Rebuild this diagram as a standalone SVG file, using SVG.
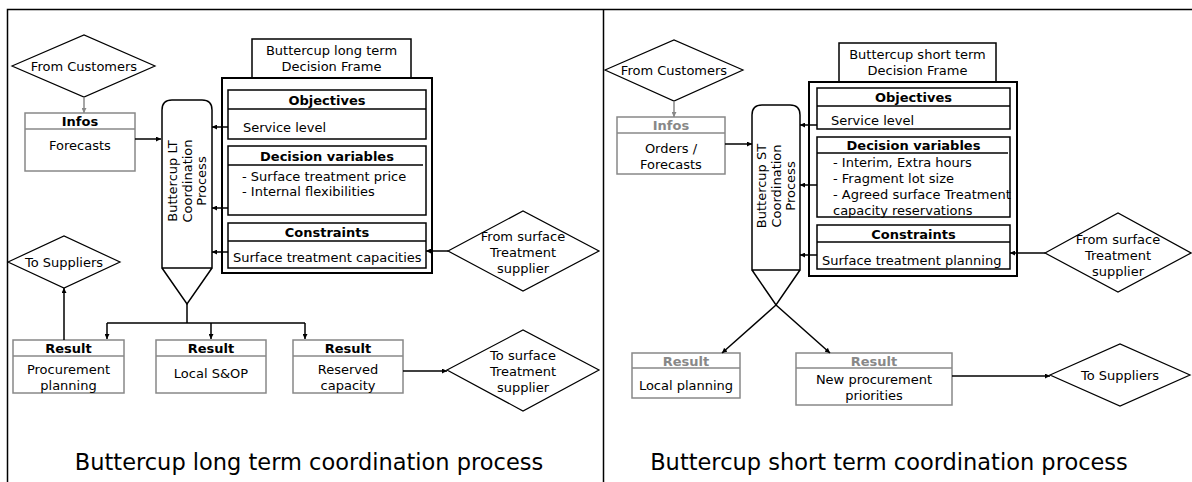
<svg xmlns="http://www.w3.org/2000/svg" width="1192" height="482" viewBox="0 0 1192 482">
<style>
text{font-family:"DejaVu Sans","Liberation Sans",sans-serif;font-size:13px;fill:#000}
.c{text-anchor:middle}
.b{font-weight:bold}
.g{fill:#888}
.cap{font-size:22.5px;text-anchor:middle}
.box{fill:#fff;stroke:#000;stroke-width:1.5}
.gbox{fill:#fff;stroke:#888;stroke-width:1.5}
.frame{fill:#fff;stroke:#000;stroke-width:2}
.dia{fill:#fff;stroke:#000;stroke-width:1.2}
.ln{fill:none;stroke:#000;stroke-width:1.5}
.gln{fill:none;stroke:#888;stroke-width:1.5}
.con{fill:none;stroke:#000;stroke-width:1.5;marker-end:url(#ah)}
.gcon{fill:none;stroke:#888;stroke-width:1.5;marker-end:url(#gah)}
</style>
<defs>
<marker id="ah" viewBox="0 0 10 10" refX="10" refY="5" markerWidth="6" markerHeight="5" orient="auto" markerUnits="userSpaceOnUse"><path d="M0,0 L10,5 L0,10 Z" fill="#000"/></marker>
<marker id="gah" viewBox="0 0 10 10" refX="10" refY="5" markerWidth="6" markerHeight="5" orient="auto" markerUnits="userSpaceOnUse"><path d="M0,0 L10,5 L0,10 Z" fill="#888"/></marker>
</defs>

<g id="panels">
<path class="ln" d="M7.5,482 V9.5 H1192 M603.5,9.5 V482" stroke-width="1.6"/>
</g>

<!-- LEFT PANEL -->
<g id="L-from-customers"><polygon class="dia" points="12,66 84,35 155,66 84,97"/><text class="c" x="84" y="70.5">From Customers</text></g>
<g id="L-infos"><rect class="gbox" x="25" y="113" width="110" height="58"/><line class="gln" x1="25" y1="129" x2="135" y2="129"/><text class="c b" x="80" y="125.5">Infos</text><text class="c" x="80" y="150">Forecasts</text></g>
<g id="L-process"><path class="box" d="M162,268 V110 Q162,100 172,100 H202 Q212,100 212,110 V268 Z M162,268 L187,304 L212,268"/>
<text class="c" transform="translate(187,181) rotate(-90)"><tspan x="0" y="-10">Buttercup LT</tspan><tspan x="0" y="4.5">Coordination</tspan><tspan x="0" y="19">Process</tspan></text></g>
<g id="L-frame-title"><rect class="box" x="252" y="39" width="159" height="39"/><text class="c" x="331.5" y="55">Buttercup long term</text><text class="c" x="331.5" y="71">Decision Frame</text></g>
<g id="L-frame"><rect class="frame" x="222" y="78" width="210" height="195"/></g>
<g id="L-objectives"><rect class="box" x="228" y="90" width="198" height="49"/><line class="ln" x1="228" y1="109" x2="426" y2="109"/><text class="c b" x="327" y="104.5">Objectives</text><text x="243" y="131.5">Service level</text></g>
<g id="L-decision"><rect class="box" x="228" y="146" width="198" height="69"/><line class="ln" x1="228" y1="165" x2="423" y2="165"/><text class="c b" x="327" y="160.5">Decision variables</text><text x="242" y="180.5">- Surface treatment price</text><text x="242" y="196">- Internal flexibilities</text></g>
<g id="L-constraints"><rect class="box" x="228" y="223" width="198" height="45"/><line class="ln" x1="228" y1="241" x2="426" y2="241"/><text class="c b" x="327" y="237">Constraints</text><text x="233" y="261.5">Surface treatment capacities</text></g>
<g id="L-from-surface"><polygon class="dia" points="448,251 523,211 599,251 523,291"/><text class="c" x="523" y="241">From surface</text><text class="c" x="523" y="257">Treatment</text><text class="c" x="523" y="273">supplier</text></g>
<g id="L-to-suppliers"><polygon class="dia" points="8,262 64,236 120,262 64,288"/><text class="c" x="64" y="266.5">To Suppliers</text></g>
<g id="L-result1"><rect class="gbox" x="13" y="340" width="111" height="53"/><line class="gln" x1="13" y1="356" x2="124" y2="356"/><text class="c b" x="68.5" y="352.5">Result</text><text class="c" x="68.5" y="373.5">Procurement</text><text class="c" x="68.5" y="389.5">planning</text></g>
<g id="L-result2"><rect class="gbox" x="156" y="340" width="110" height="53"/><line class="gln" x1="156" y1="356" x2="266" y2="356"/><text class="c b" x="211" y="352.5">Result</text><text class="c" x="211" y="377.5">Local S&amp;OP</text></g>
<g id="L-result3"><rect class="gbox" x="293" y="340" width="110" height="53"/><line class="gln" x1="293" y1="356" x2="403" y2="356"/><text class="c b" x="348" y="352.5">Result</text><text class="c" x="348" y="373.5">Reserved</text><text class="c" x="348" y="389.5">capacity</text></g>
<g id="L-to-surface"><polygon class="dia" points="447,370 523,330 599,370 523,411"/><text class="c" x="523" y="360">To surface</text><text class="c" x="523" y="376">Treatment</text><text class="c" x="523" y="392">supplier</text></g>
<text class="cap" x="309" y="470">Buttercup long term coordination process</text>

<!-- RIGHT PANEL -->
<g id="R-from-customers"><polygon class="dia" points="605,70 674,40 743,70 674,101"/><text class="c" x="674" y="74.5">From Customers</text></g>
<g id="R-infos"><rect class="gbox" x="617" y="117" width="108" height="57"/><line class="gln" x1="617" y1="133" x2="725" y2="133"/><text class="c b g" x="671" y="129.5">Infos</text><text class="c" x="671" y="152.5">Orders /</text><text class="c" x="671" y="168.5">Forecasts</text></g>
<g id="R-process"><path class="box" d="M752,270 V115 Q752,105 762,105 H790 Q800,105 800,115 V270 Z M752,270 L776,305 L800,270"/>
<text class="c" transform="translate(776,186) rotate(-90)"><tspan x="0" y="-10">Buttercup ST</tspan><tspan x="0" y="4.5">Coordination</tspan><tspan x="0" y="19">Process</tspan></text></g>
<g id="R-frame-title"><rect class="box" x="839" y="43" width="157" height="39"/><text class="c" x="917.5" y="59">Buttercup short term</text><text class="c" x="917.5" y="75">Decision Frame</text></g>
<g id="R-frame"><rect class="frame" x="809" y="82" width="208" height="194"/></g>
<g id="R-objectives"><rect class="box" x="817" y="88" width="193" height="41"/><line class="ln" x1="817" y1="106" x2="1010" y2="106"/><text class="c b" x="913.5" y="101.5">Objectives</text><text x="831" y="124.5">Service level</text></g>
<g id="R-decision"><rect class="box" x="817" y="137" width="193" height="80"/><line class="ln" x1="817" y1="153" x2="1008" y2="153"/><text class="c b" x="913.5" y="149.5">Decision variables</text><text x="833" y="166.5">- Interim, Extra hours</text><text x="833" y="182.5">- Fragment lot size</text><text x="833" y="198.5">- Agreed surface Treatment</text><text x="833" y="214.5">capacity reservations</text></g>
<g id="R-constraints"><rect class="box" x="817" y="225" width="193" height="44"/><line class="ln" x1="817" y1="242" x2="1010" y2="242"/><text class="c b" x="913.5" y="238.5">Constraints</text><text x="822" y="264.5">Surface treatment planning</text></g>
<g id="R-from-surface"><polygon class="dia" points="1045,253 1118,213 1191,253 1118,292"/><text class="c" x="1118" y="244">From surface</text><text class="c" x="1118" y="260">Treatment</text><text class="c" x="1118" y="276">supplier</text></g>
<g id="R-result1"><rect class="gbox" x="632" y="353" width="108" height="45"/><line class="gln" x1="632" y1="368" x2="740" y2="368"/><text class="c b" x="686" y="365.5" fill="#888" style="fill:#888">Result</text><text class="c" x="686" y="389.5">Local planning</text></g>
<g id="R-result2"><rect class="gbox" x="796" y="353" width="156" height="52"/><line class="gln" x1="796" y1="368" x2="952" y2="368"/><text class="c b" x="874" y="365.5" style="fill:#888">Result</text><text class="c" x="874" y="383.5">New procurement</text><text class="c" x="874" y="399.5">priorities</text></g>
<g id="R-to-suppliers"><polygon class="dia" points="1050,375 1120,344 1190,375 1120,406"/><text class="c" x="1120" y="379.5">To Suppliers</text></g>
<text class="cap" x="889" y="470">Buttercup short term coordination process</text>

<g id="connectors">
<line class="gcon" x1="84" y1="97" x2="84" y2="113"/>
<line class="con" x1="135" y1="139" x2="161" y2="139"/>
<line class="con" x1="228" y1="127" x2="212" y2="127"/>
<line class="con" x1="228" y1="208" x2="212" y2="208"/>
<line class="con" x1="228" y1="252" x2="212" y2="252"/>
<line class="con" x1="448" y1="251" x2="426" y2="251"/>
<path class="ln" d="M187,304 V323 M107,323 H305"/>
<line class="con" x1="107" y1="323" x2="107" y2="339"/>
<line class="con" x1="211" y1="323" x2="211" y2="339"/>
<line class="con" x1="305" y1="323" x2="305" y2="339"/>
<line class="con" x1="64" y1="340" x2="64" y2="288"/>
<line class="con" x1="403" y1="371" x2="447" y2="371"/>
<line class="gcon" x1="674" y1="101" x2="674" y2="117"/>
<line class="con" x1="725" y1="144" x2="752" y2="144"/>
<line class="con" x1="817" y1="125" x2="800" y2="125"/>
<line class="con" x1="817" y1="185" x2="800" y2="185"/>
<line class="con" x1="817" y1="255" x2="800" y2="255"/>
<line class="con" x1="1045" y1="253" x2="1010" y2="253"/>
<line class="con" x1="776" y1="305" x2="722" y2="353"/>
<line class="con" x1="776" y1="305" x2="830" y2="353"/>
<line class="con" x1="952" y1="376" x2="1050" y2="376"/>
</g>
</svg>
